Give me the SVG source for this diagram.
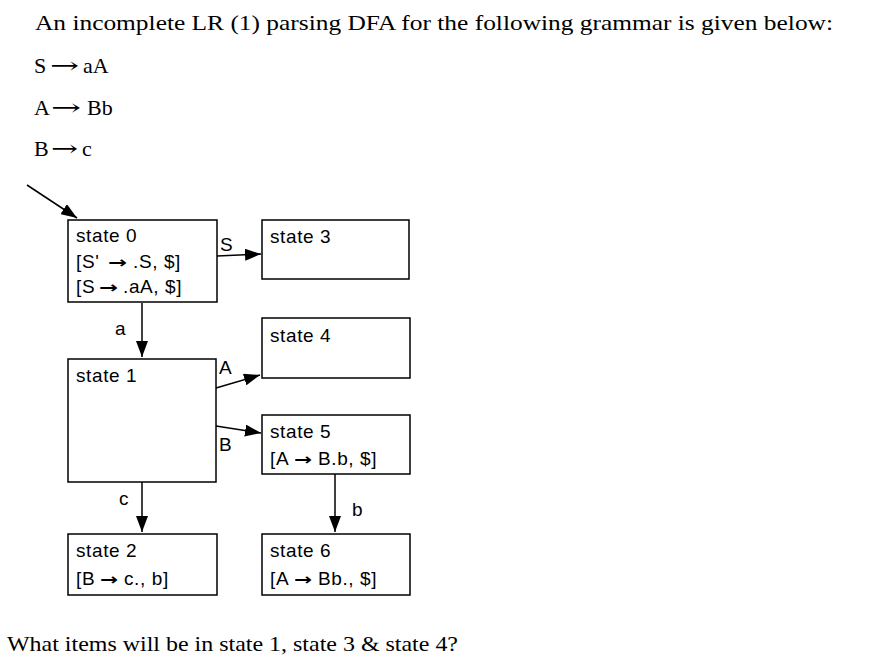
<svg xmlns="http://www.w3.org/2000/svg" width="878" height="658" viewBox="0 0 878 658">
<defs>
<marker id="ah" markerWidth="16" markerHeight="12" refX="16" refY="6" orient="auto" markerUnits="userSpaceOnUse">
<path d="M0,0 L16,6 L0,12 z" fill="#000"/>
</marker>
<style>
.q{font-family:"Liberation Serif","Times New Roman",serif;font-size:21px;fill:#000}
.g{font-family:"Liberation Serif","Times New Roman",serif;font-size:22px;fill:#000}
.ga{font-family:"DejaVu Serif",serif;font-weight:normal}
.box{fill:#fff;stroke:#000;stroke-width:1.5}
.t{font-family:"Liberation Sans",Arial,sans-serif;font-size:19px;letter-spacing:0.6px;fill:#000}
.ar{font-family:"DejaVu Sans",sans-serif;font-size:16px;font-weight:bold;letter-spacing:0}
.e{stroke:#000;stroke-width:1.5;fill:none;marker-end:url(#ah)}
</style>
</defs>
<rect width="878" height="658" fill="#fff"/>
<g id="question">
<text class="q" x="35" y="30" textLength="798" lengthAdjust="spacingAndGlyphs">An incomplete LR (1) parsing DFA for the following grammar is given below:</text>
<text class="g" y="73"><tspan x="34">S</tspan><tspan class="ga" x="50" textLength="29" lengthAdjust="spacingAndGlyphs">→</tspan><tspan x="83">aA</tspan></text>
<text class="g" y="115"><tspan x="34">A</tspan><tspan class="ga" x="51" textLength="30" lengthAdjust="spacingAndGlyphs">→</tspan><tspan x="87">Bb</tspan></text>
<text class="g" y="156"><tspan x="34">B</tspan><tspan class="ga" x="51" textLength="27" lengthAdjust="spacingAndGlyphs">→</tspan><tspan x="82">c</tspan></text>
<text class="q" x="7" y="651" textLength="451" lengthAdjust="spacingAndGlyphs">What items will be in state 1, state 3 &amp; state 4?</text>
</g>
<g id="connectors">
<line class="e" x1="27" y1="185" x2="77" y2="218"/>
<line class="e" x1="217" y1="256" x2="261" y2="254"/>
<line class="e" x1="142" y1="303" x2="142" y2="357"/>
<line class="e" x1="216" y1="388" x2="260" y2="375"/>
<line class="e" x1="216" y1="426" x2="261" y2="433"/>
<line class="e" x1="142" y1="482" x2="142" y2="532"/>
<line class="e" x1="335" y1="474" x2="335" y2="532"/>
<text class="t" x="220" y="251">S</text>
<text class="t" x="115" y="335">a</text>
<text class="t" x="219" y="374">A</text>
<text class="t" x="219" y="451">B</text>
<text class="t" x="119" y="505">c</text>
<text class="t" x="352" y="516">b</text>
</g>
<g id="state0">
<rect class="box" x="68" y="220" width="149" height="82"/>
<text class="t" x="76" y="242">state 0</text>
<text class="t" y="268"><tspan x="76">[S'</tspan><tspan class="ar" x="108" textLength="19" lengthAdjust="spacingAndGlyphs">→</tspan><tspan x="133">.S, $]</tspan></text>
<text class="t" y="293"><tspan x="76">[S</tspan><tspan class="ar" x="99" textLength="19" lengthAdjust="spacingAndGlyphs">→</tspan><tspan x="123">.aA, $]</tspan></text>
</g>
<g id="state3">
<rect class="box" x="262" y="220" width="147" height="59"/>
<text class="t" x="270" y="243">state 3</text>
</g>
<g id="state1">
<rect class="box" x="68" y="359" width="148" height="123"/>
<text class="t" x="76" y="382">state 1</text>
</g>
<g id="state4">
<rect class="box" x="262" y="318" width="148" height="60"/>
<text class="t" x="270" y="342">state 4</text>
</g>
<g id="state5">
<rect class="box" x="262" y="415" width="148" height="59"/>
<text class="t" x="270" y="438">state 5</text>
<text class="t" y="465"><tspan x="270">[A</tspan><tspan class="ar" x="294" textLength="18" lengthAdjust="spacingAndGlyphs">→</tspan><tspan x="318">B.b, $]</tspan></text>
</g>
<g id="state2">
<rect class="box" x="68" y="534" width="149" height="61"/>
<text class="t" x="76" y="557">state 2</text>
<text class="t" y="585"><tspan x="76">[B</tspan><tspan class="ar" x="100" textLength="18" lengthAdjust="spacingAndGlyphs">→</tspan><tspan x="124">c., b]</tspan></text>
</g>
<g id="state6">
<rect class="box" x="262" y="534" width="148" height="61"/>
<text class="t" x="270" y="557">state 6</text>
<text class="t" y="585"><tspan x="270">[A</tspan><tspan class="ar" x="294" textLength="18" lengthAdjust="spacingAndGlyphs">→</tspan><tspan x="318">Bb., $]</tspan></text>
</g>
</svg>
